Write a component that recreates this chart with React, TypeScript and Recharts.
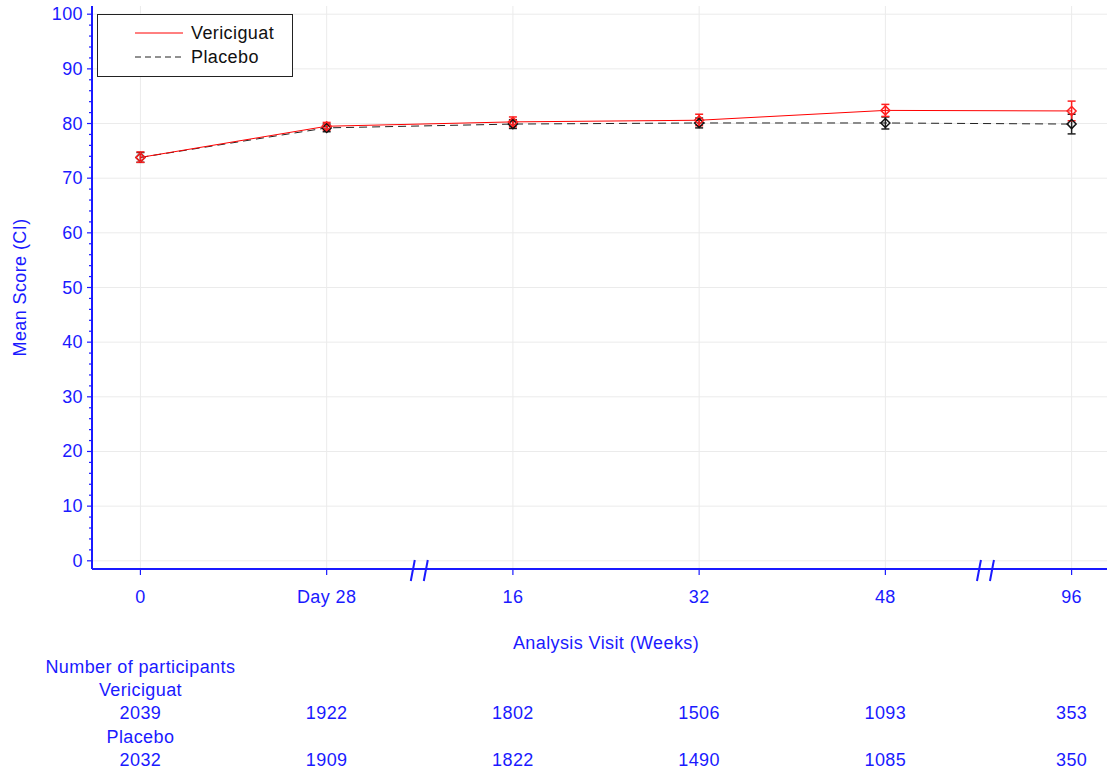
import {
  CartesianGrid,
  ErrorBar,
  Label,
  Line,
  LineChart,
  ReferenceDot,
  XAxis,
  YAxis,
} from "recharts";

const visits = ['0', 'Day 28', '16', '32', '48', '96'];

const vericiguatMean = [73.8, 79.5, 80.3, 80.6, 82.4, 82.3];
const vericiguatLow = [72.9, 78.8, 79.4, 79.6, 81.3, 80.5];
const vericiguatHigh = [74.8, 80.2, 81.2, 81.7, 83.5, 84.1];

const placeboMean = [73.8, 79.2, 79.9, 80.1, 80.1, 79.9];
const placeboLow = [72.9, 78.5, 79.1, 79.2, 79.0, 78.1];
const placeboHigh = [74.7, 79.9, 80.7, 81.0, 81.2, 81.7];

const vericiguatN = [2039, 1922, 1802, 1506, 1093, 353];
const placeboN = [2032, 1909, 1822, 1490, 1085, 350];

const yTicks = [0, 10, 20, 30, 40, 50, 60, 70, 80, 90, 100];
const yMinorTicks = Array.from({ length: 51 }, (_, i) => i * 2);

// axis breaks sit between these visits
const breaks = [1.5, 4.54];

const BLUE = '#1a1aff';
const FONT = '"Liberation Sans", Arial, sans-serif';
const FS = 18;
const LS = 0.4;
const X_DOMAIN: [number, number] = [-0.26, 5.19];

const data = visits.map((v, i) => ({
  idx: i,
  visit: v,
  ver: vericiguatMean[i],
  verErr: [vericiguatMean[i] - vericiguatLow[i], vericiguatHigh[i] - vericiguatMean[i]],
  pla: placeboMean[i],
  plaErr: [placeboMean[i] - placeboLow[i], placeboHigh[i] - placeboMean[i]],
}));

const diamond = (color: string) => (props: any) => {
  const { cx, cy, index } = props;
  if (cx == null || cy == null) return <g key={`n-${index}`} />;
  const r = 4.5;
  return (
    <path
      key={`d-${color}-${index}`}
      d={`M${cx},${cy - r} L${cx + r},${cy} L${cx},${cy + r} L${cx - r},${cy} Z`}
      fill="none"
      stroke={color}
      strokeWidth={1.5}
    />
  );
};

const YTick = (props: any) => {
  const { x, y, payload } = props;
  const major = payload.value % 10 === 0;
  return (
    <g>
      <line x1={x} x2={x - (major ? 5 : 3)} y1={y} y2={y} stroke={BLUE} strokeWidth={1.2} />
      {major && (
        <text x={x - 9} y={y} textAnchor="end" dominantBaseline="central" fill={BLUE} fontSize={FS} letterSpacing={LS} fontFamily={FONT}>
          {payload.value}
        </text>
      )}
    </g>
  );
};

const XTick = (props: any) => {
  const { x, y, payload } = props;
  const i = payload.value as number;
  const t = { fill: BLUE, fontSize: FS, letterSpacing: LS, fontFamily: FONT, dominantBaseline: 'central' as const };
  return (
    <g>
      <text x={x} y={y + 22} textAnchor="middle" {...t}>{visits[i]}</text>
      {i === 0 && (
        <>
          <text x={x - 95} y={y + 92} textAnchor="start" {...t}>Number of participants</text>
          <text x={x} y={y + 115} textAnchor="middle" {...t}>Vericiguat</text>
          <text x={x} y={y + 162} textAnchor="middle" {...t}>Placebo</text>
        </>
      )}
      <text x={x} y={y + 138} textAnchor="middle" {...t}>{vericiguatN[i]}</text>
      <text x={x} y={y + 185} textAnchor="middle" {...t}>{placeboN[i]}</text>
    </g>
  );
};

const XTitle = (props: any) => {
  const { x, y, width } = props.viewBox;
  const span = X_DOMAIN[1] - X_DOMAIN[0];
  const cx = x + ((2.5 - X_DOMAIN[0]) / span) * width;
  return (
    <text x={cx} y={y + 74} textAnchor="middle" dominantBaseline="central" fill={BLUE} fontSize={FS} letterSpacing={LS} fontFamily={FONT}>
      Analysis Visit (Weeks)
    </text>
  );
};

const BreakMark = (props: any) => {
  const { cx, cy } = props;
  return (
    <g>
      <line x1={cx - 9} y1={cy + 12} x2={cx - 5} y2={cy - 9} stroke={BLUE} strokeWidth={2} />
      <line x1={cx + 4} y1={cy + 12} x2={cx + 8} y2={cy - 9} stroke={BLUE} strokeWidth={2} />
    </g>
  );
};

function ChartLegend() {
  return (
    <div
      style={{
        position: 'absolute',
        left: 97,
        top: 14,
        width: 194,
        height: 61,
        border: '1px solid #222',
        background: '#fff',
      }}
    >
      <svg width={194} height={61}>
        <line x1={37} x2={85} y1={18} y2={18} stroke="#ff0000" strokeWidth={1} />
        <line x1={37} x2={85} y1={42} y2={42} stroke="#222" strokeWidth={1} strokeDasharray="6 4" />
        <text x={93} y={18} dominantBaseline="central" fontSize={FS} letterSpacing={LS} fontFamily={FONT} fill="#111">Vericiguat</text>
        <text x={93} y={42} dominantBaseline="central" fontSize={FS} letterSpacing={LS} fontFamily={FONT} fill="#111">Placebo</text>
      </svg>
    </div>
  );
}

export default function App() {
  return (
    <div style={{ position: 'absolute', left: 0, top: 0, width: 1108, height: 774, background: '#fff' }}>
      <LineChart width={1108} height={774} data={data} margin={{ top: 6, right: 1, bottom: 0, left: 0 }}>
        <CartesianGrid stroke="#ebebeb" strokeWidth={1} horizontalValues={yTicks} verticalValues={[0, 1, 2, 3, 4, 5]} />
        <XAxis
          dataKey="idx"
          type="number"
          domain={X_DOMAIN}
          ticks={[0, 1, 2, 3, 4, 5]}
          height={205}
          axisLine={{ stroke: BLUE, strokeWidth: 2 }}
          tickLine={{ stroke: BLUE, strokeWidth: 1.2 }}
          tickSize={6}
          tickMargin={0}
          tick={<XTick />}
          interval={0}
          allowDataOverflow
        >
          <Label content={<XTitle />} />
        </XAxis>
        <YAxis
          type="number"
          domain={[-1.5, 101.5]}
          ticks={yMinorTicks}
          width={92}
          axisLine={{ stroke: BLUE, strokeWidth: 2 }}
          tickLine={false}
          tickSize={0}
          tickMargin={0}
          tick={<YTick />}
          interval={0}
          allowDataOverflow
        >
          <Label
            value="Mean Score (CI)"
            angle={-90}
            position="insideLeft"
            offset={20}
            style={{ textAnchor: 'middle', fill: BLUE, fontSize: FS, letterSpacing: LS, fontFamily: FONT }}
          />
        </YAxis>
        <Line
          dataKey="pla"
          type="linear"
          stroke="#222"
          strokeWidth={1}
          strokeDasharray="8 5"
          dot={diamond('#111')}
          activeDot={false}
          isAnimationActive={false}
        >
          <ErrorBar dataKey="plaErr" direction="y" width={4} stroke="#222" strokeWidth={1.5} isAnimationActive={false} />
        </Line>
        <Line
          dataKey="ver"
          type="linear"
          stroke="#ff0000"
          strokeWidth={1}
          dot={diamond('#ff2020')}
          activeDot={false}
          isAnimationActive={false}
        >
          <ErrorBar dataKey="verErr" direction="y" width={4} stroke="#ff2020" strokeWidth={1.5} isAnimationActive={false} />
        </Line>
        {breaks.map((b) => (
          <ReferenceDot key={b} x={b} y={-1.5} ifOverflow="visible" shape={<BreakMark />} />
        ))}
      </LineChart>
      <ChartLegend />
    </div>
  );
}
